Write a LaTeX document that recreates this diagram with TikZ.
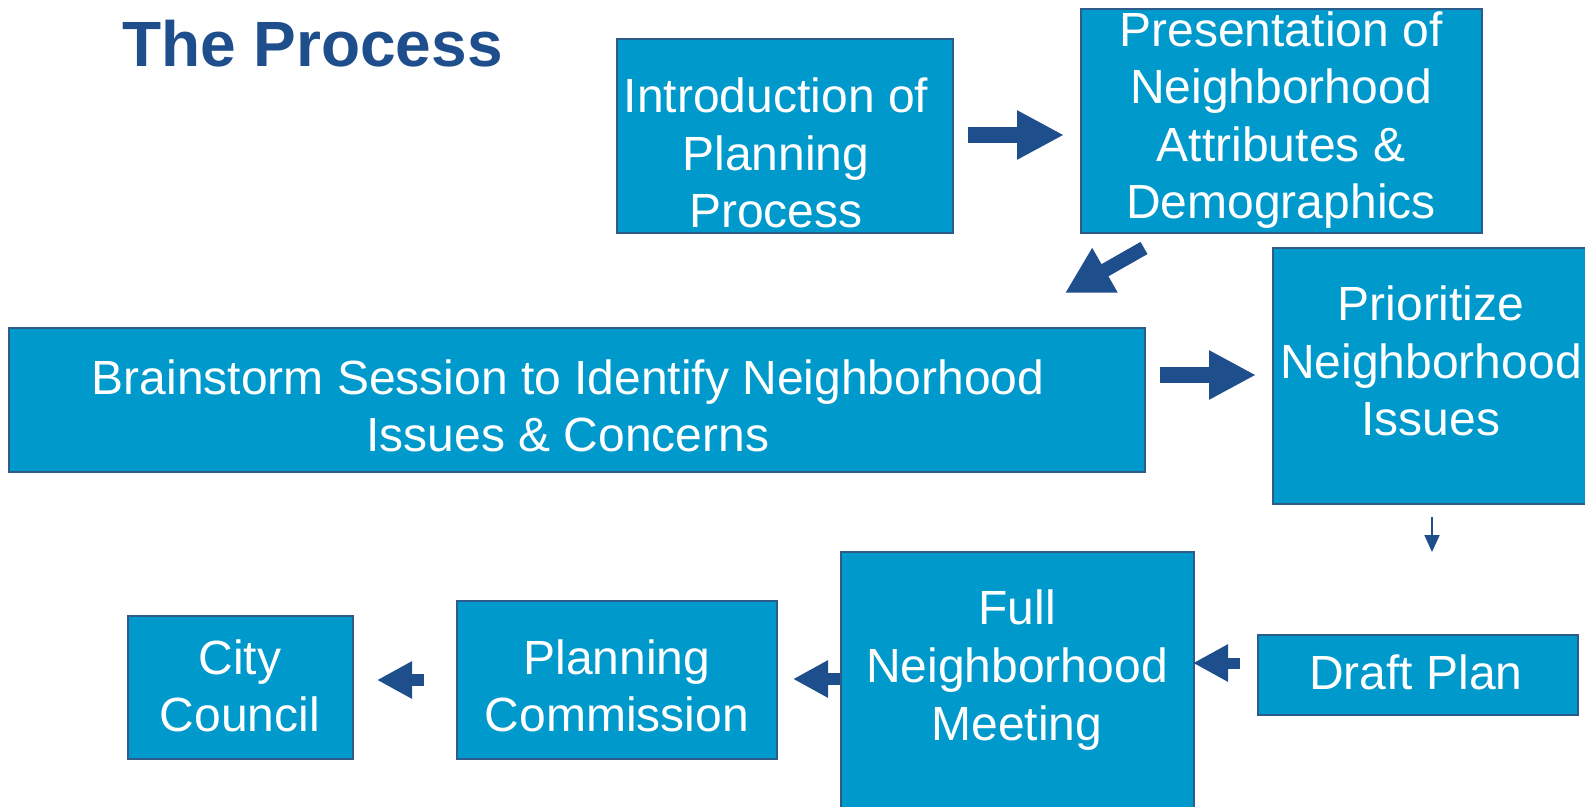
\documentclass[tikz,border=0pt]{standalone}
\usepackage{fontspec}
\setmainfont{Liberation Sans}
\usetikzlibrary{arrows.meta}
\definecolor{boxfill}{HTML}{0099CC}
\definecolor{boxline}{HTML}{2E5C8A}
\definecolor{dkblue}{HTML}{1F4E8C}
\tikzset{
  box/.style={draw=boxline, line width=1.5pt, fill=boxfill},
  lbl/.style={text=white, align=center, font=\fontsize{48}{57.6}\selectfont, inner sep=0pt},
  bigarrow/.style={draw=dkblue, line width=16pt, line cap=butt, -{Triangle[length=47pt,width=46pt]}},
  midarrow/.style={draw=dkblue, line width=12pt, line cap=butt, -{Triangle[length=35pt,width=35pt]}},
  tinyarrow/.style={draw=dkblue, line width=1.8pt, -{Triangle[length=17pt,width=15pt]}}
}
\begin{document}
\begin{tikzpicture}[x=1pt,y=-1pt]
\useasboundingbox (0,0) rectangle (1585,806);
\clip (0,0) rectangle (1585,806);
\fill[white] (0,0) rectangle (1585,806);
% title
\node[anchor=base west, inner sep=0pt, text=dkblue, font=\fontsize{64}{77}\selectfont\bfseries] (title) at (122,66) {The Process};
% boxes
\node[box, inner sep=0pt, anchor=north west, minimum width=336pt, minimum height=194pt] (intro) at (616,38) {};
\node[box, inner sep=0pt, anchor=north west, minimum width=401pt, minimum height=224pt] (pres) at (1080,8) {};
\node[box, inner sep=0pt, anchor=north west, minimum width=1136pt, minimum height=144pt] (brain) at (8,327) {};
\node[box, inner sep=0pt, anchor=north west, minimum width=330pt, minimum height=256pt] (prio) at (1272,247) {};
\node[box, inner sep=0pt, anchor=north west, minimum width=320pt, minimum height=80pt] (draft) at (1257,634) {};
\node[box, inner sep=0pt, anchor=north west, minimum width=353pt, minimum height=270pt] (full) at (840,551) {};
\node[box, inner sep=0pt, anchor=north west, minimum width=320pt, minimum height=158pt] (plan) at (456,600) {};
\node[box, inner sep=0pt, anchor=north west, minimum width=225pt, minimum height=143pt] (city) at (127,615) {};
% labels
\node[lbl] (introT) at (776,153) {Introduction of\\Planning\\Process};
\node[lbl] (presT) at (1281,120) {Presentation of\\Neighborhood\\Attributes \&\\Demographics};
\node[lbl] (brainT) at (568,406) {Brainstorm Session to Identify Neighborhood\\Issues \& Concerns};
\node[lbl] (prioT) at (1431,361) {Prioritize\\Neighborhood\\Issues};
\node[lbl] (draftT) at (1416,672) {Draft Plan};
\node[lbl] (fullT) at (1017,670) {Full\\Neighborhood\\Meeting};
\node[lbl] (planT) at (617,686) {Planning\\Commission};
\node[lbl] (cityT) at (240,686) {City\\Council};
% arrow end points
\coordinate (a1s) at (968,135); \coordinate (a1e) at (1064,135);
\coordinate (a2s) at (1144,248); \coordinate (a2e) at (1065,293);
\coordinate (a3s) at (1160,375); \coordinate (a3e) at (1256,375);
\coordinate (a4s) at (1432,517); \coordinate (a4e) at (1432,552);
\coordinate (a5s) at (1240,663); \coordinate (a5e) at (1193,663);
\coordinate (a6s) at (840,679); \coordinate (a6e) at (793,679);
\coordinate (a7s) at (424,680); \coordinate (a7e) at (377,680);
\draw[bigarrow] (a1s) -- (a1e);
\draw[bigarrow, line width=14pt, -{Triangle[length=46pt,width=48pt]}] (a2s) -- (a2e);
\draw[bigarrow] (a3s) -- (a3e);
\draw[tinyarrow] (a4s) -- (a4e);
\draw[midarrow, line width=11pt] (a5s) -- (a5e);
\draw[midarrow] (a6s) -- (a6e);
\draw[midarrow] (a7s) -- (a7e);
\end{tikzpicture}
\end{document}
